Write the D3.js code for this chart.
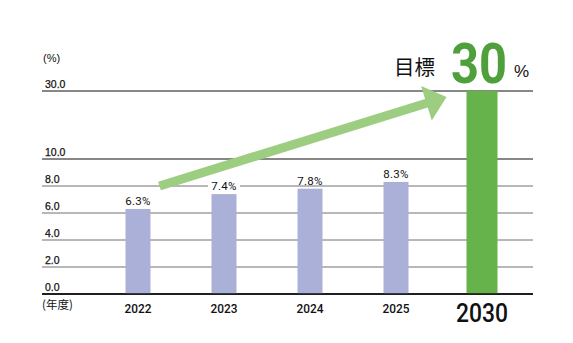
<!DOCTYPE html>
<html>
<head>
<meta charset="utf-8">
<script src="https://cdn.jsdelivr.net/npm/d3@7"></script>
<style>
  html, body { margin: 0; padding: 0; background: #fff; }
  svg { display: block; }
</style>
</head>
<body>
<svg id="chart" width="573" height="343"></svg>
<script>
// Data
const years = ["2022", "2023", "2024", "2025", "2030"];
const rates = [6.3, 7.4, 7.8, 8.3, 30];
const isTarget = [false, false, false, false, true];
const tickValues = [0, 2, 4, 6, 8, 10, 30];
const tickLabels = ["0.0", "2.0", "4.0", "6.0", "8.0", "10.0", "30.0"];
const targetWord = "目標";
const targetValue = "30";

const svg = d3.select("#chart");
const gridLeft = 42, gridRight = 533;

// Broken value axis: 0–10 spaced evenly, then a compressed run up to 30
const y = d3.scaleLinear().domain([0, 10, 30]).range([294, 159, 91]);
const x = d3.scalePoint().domain(years).range([95, 525]).padding(0.5);

const barW = 25, targetW = 31;
const purple = "#abb0d8", green = "#67b34b", arrowGreen = "#9ccd80", darkGreen = "#4f9f3c";

// Gridlines with their labels sitting just above each line
const grid = svg.append("g");
tickValues.forEach((v, i) => {
  const strong = (v === 0 || v === 10 || v === 30);
  grid.append("line")
    .attr("x1", gridLeft).attr("x2", gridRight)
    .attr("y1", y(v)).attr("y2", y(v))
    .attr("stroke", strong ? "#111" : "#707070")
    .attr("stroke-width", v === 0 ? 1.6 : (strong ? 1.2 : 1));
  grid.append("text")
    .attr("x", 45).attr("y", y(v) - 3.5)
    .attr("font-family", "Liberation Sans, Arial, sans-serif")
    .attr("font-size", 10.5).attr("fill", "#111")
    .attr("stroke", "#111").attr("stroke-width", 0.25)
    .text(tickLabels[i]);
});

// Axis captions
svg.append("text").attr("x", 43).attr("y", 62)
  .attr("font-family", "Liberation Sans, Arial, sans-serif")
  .attr("font-size", 11).attr("fill", "#111").text("(%)");
svg.append("text").attr("x", 42).attr("y", 309)
  .attr("font-family", "Noto Sans CJK JP, sans-serif")
  .attr("font-size", 11.5).attr("fill", "#111").text("(年度)");

// Bars
const data = years.map((yr, i) => ({ yr, v: rates[i], target: isTarget[i] }));
svg.append("g").selectAll("rect").data(data).join("rect")
  .attr("x", d => x(d.yr) - (d.target ? targetW : barW) / 2)
  .attr("width", d => d.target ? targetW : barW)
  .attr("y", d => y(d.v))
  .attr("height", d => y(0) - y(d.v))
  .attr("fill", d => d.target ? green : purple);

// Redraw baseline over the bars
svg.append("line").attr("x1", gridLeft).attr("x2", gridRight)
  .attr("y1", y(0)).attr("y2", y(0)).attr("stroke", "#111").attr("stroke-width", 1.6);

// Value labels on a white backing
const vl = svg.append("g").selectAll("g").data(data.filter(d => !d.target)).join("g");
vl.append("rect")
  .attr("x", d => x(d.yr) - 16).attr("width", 32)
  .attr("y", d => y(d.v) - 16).attr("height", 12)
  .attr("fill", "#fff");
vl.append("text")
  .attr("x", d => x(d.yr)).attr("y", d => y(d.v) - 4)
  .attr("text-anchor", "middle")
  .attr("font-family", "Roboto, Liberation Sans, sans-serif")
  .attr("font-size", 11.5).attr("letter-spacing", 0.3).attr("fill", "#111")
  .text(d => d.v.toFixed(1) + "%");

// Year labels
svg.append("g").selectAll("text").data(data.filter(d => !d.target)).join("text")
  .attr("x", d => x(d.yr)).attr("y", 312.5)
  .attr("text-anchor", "middle")
  .attr("font-family", "Roboto, sans-serif").attr("font-weight", 500)
  .attr("font-size", 13.5).attr("fill", "#111")
  .attr("textLength", 27).attr("lengthAdjust", "spacingAndGlyphs")
  .text(d => d.yr);
const tgt = data.find(d => d.target);
svg.append("text")
  .attr("x", x(tgt.yr)).attr("y", 321.5)
  .attr("text-anchor", "middle")
  .attr("font-family", "Roboto, sans-serif").attr("font-weight", 500)
  .attr("font-size", 25).attr("fill", "#111")
  .attr("textLength", 52).attr("lengthAdjust", "spacingAndGlyphs")
  .text(tgt.yr);

// Growth arrow from the 2022 bar toward the target bar
const p0 = [x("2022") + barW / 2 + 9, y(8)];
const p1 = [x("2030") - targetW / 2 - 20, y(30) + 6];
const ang = Math.atan2(p1[1] - p0[1], p1[0] - p0[0]);
const ux = Math.cos(ang), uy = Math.sin(ang), nx = -uy, ny = ux;
const shaft = 4.5, headLen = 21, headHalf = 18;
const len = Math.hypot(p1[0] - p0[0], p1[1] - p0[1]);
const b = [p0[0] + ux * (len - headLen), p0[1] + uy * (len - headLen)];
const pts = [
  [p0[0] + nx * shaft, p0[1] + ny * shaft],
  [b[0] + nx * shaft, b[1] + ny * shaft],
  [b[0] + nx * headHalf, b[1] + ny * headHalf],
  p1,
  [b[0] - nx * headHalf, b[1] - ny * headHalf],
  [b[0] - nx * shaft, b[1] - ny * shaft],
  [p0[0] - nx * shaft, p0[1] - ny * shaft]
];
svg.append("path").attr("d", d3.line()(pts) + "Z").attr("fill", arrowGreen);

// Target annotation
svg.append("text").attr("x", 394).attr("y", 75)
  .attr("font-family", "Noto Sans CJK JP, sans-serif")
  .attr("font-size", 20.5).attr("fill", "#111").text(targetWord);
svg.append("text").attr("x", 451).attr("y", 82.5)
  .attr("font-family", "Roboto, sans-serif").attr("font-weight", 700)
  .attr("font-size", 56).attr("fill", darkGreen)
  .attr("textLength", 56).attr("lengthAdjust", "spacingAndGlyphs")
  .text(targetValue);
svg.append("text").attr("x", 514).attr("y", 77)
  .attr("font-family", "Liberation Sans, Arial, sans-serif")
  .attr("font-size", 17).attr("fill", "#111").text("%");
</script>
</body>
</html>
